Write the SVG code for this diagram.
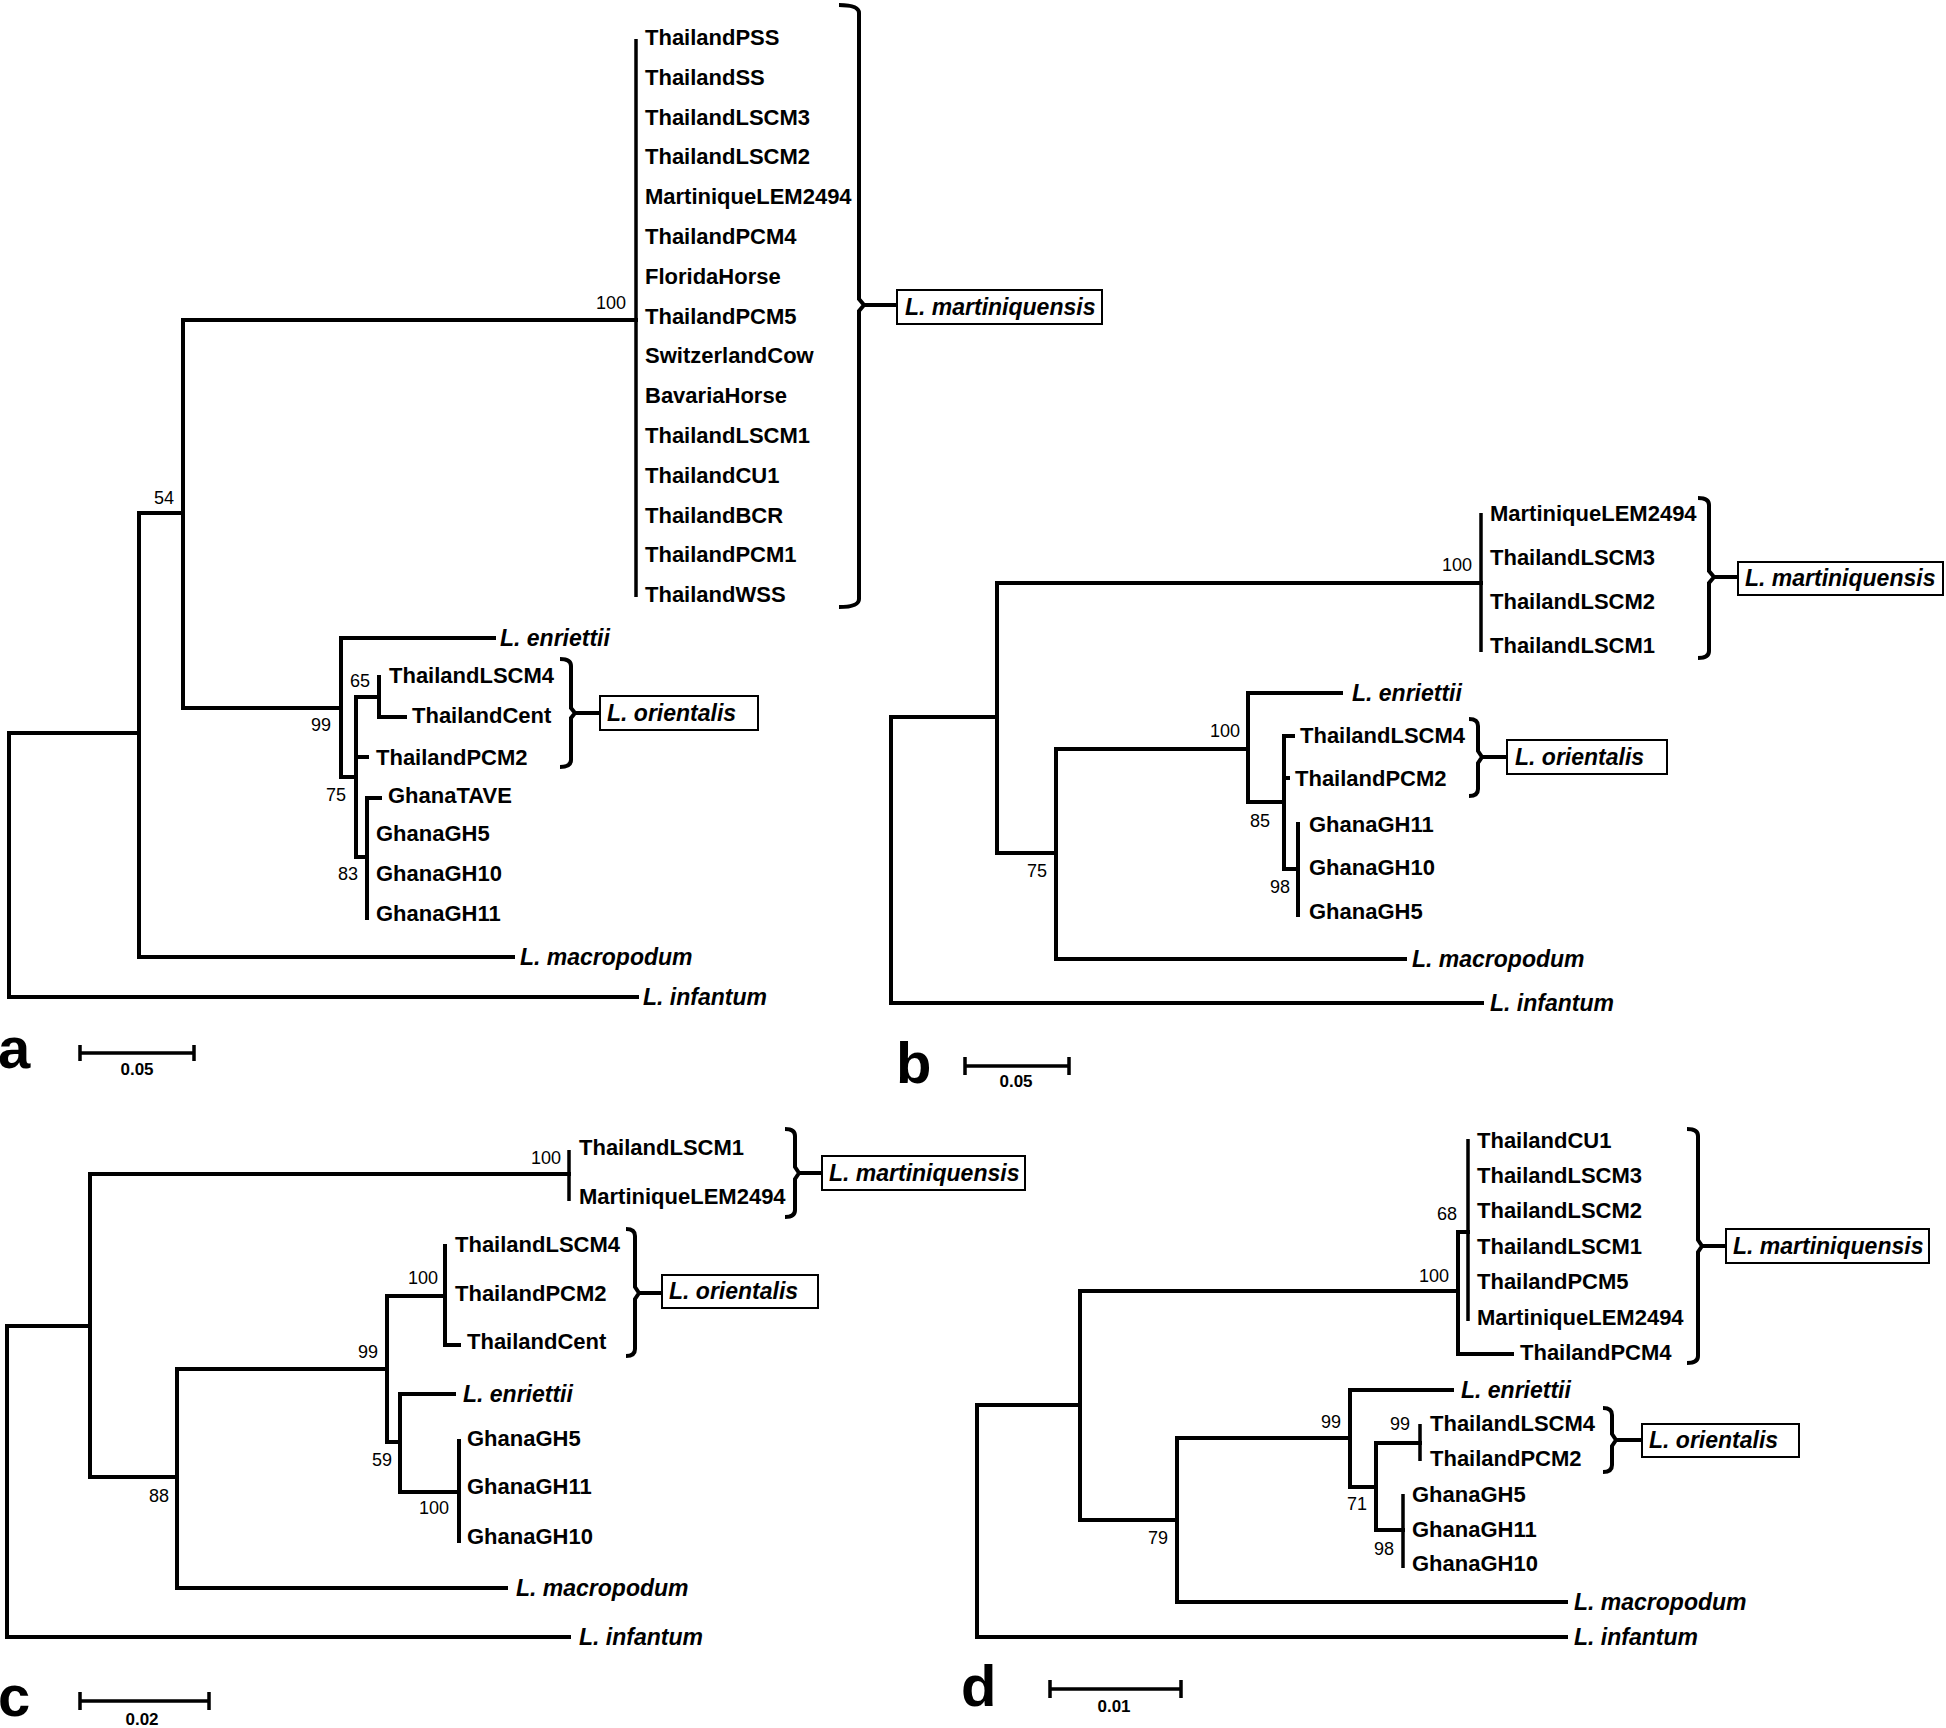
<svg xmlns="http://www.w3.org/2000/svg" width="1946" height="1728" viewBox="0 0 1946 1728">
<style>
.br{stroke:#000;stroke-width:4;fill:none;stroke-linecap:square;stroke-linejoin:miter}
.cb{stroke:#000;stroke-width:3.5;fill:none}
.bk{stroke:#000;stroke-width:4;fill:none;stroke-linecap:butt}
.sb{stroke:#000;stroke-width:3.5;fill:none}
.bx{fill:#fff;stroke:#000;stroke-width:2}
text{font-family:"Liberation Sans",Arial,sans-serif;fill:#000}
.lb{font-size:22px;font-weight:bold}
.sp{font-size:23px;font-weight:bold;font-style:italic}
.bs{font-size:18px;text-anchor:middle}
.sc{font-size:17px;font-weight:bold;text-anchor:middle}
.pl{font-size:58px;font-weight:bold}
</style>
<rect width="1946" height="1728" fill="#fff"/>

<!-- ================= PANEL A ================= -->
<g id="connectors-a">
<path class="br" d="M9 733V997M9 733H139M9 997H637M139 513V957M139 513H183M139 957H513M183 320V708M183 320H636M183 708H341M341 638V777M341 638H494M341 777H356M356 697V857M356 697H379M356 757H367M356 857H367M379 677V717M379 717H405M367 798V918M367 798H380"/>
<path class="cb" d="M636 39V597"/>
<path class="bk" d="M839 5Q859 5 859 13V299L864 305L859 311V599Q859 607 839 607M864 305H897"/>
<path class="bk" d="M560 659Q571 659 571 666V708L575 713L571 718V760Q571 767 560 767M575 713H600"/>
<path class="sb" d="M80 1053H194M80 1045V1061M194 1045V1061"/>
</g>
<g id="a-ThailandPSS"><text class="lb" x="645" y="45">ThailandPSS</text></g>
<g id="a-ThailandSS"><text class="lb" x="645" y="85">ThailandSS</text></g>
<g id="a-ThailandLSCM3"><text class="lb" x="645" y="125">ThailandLSCM3</text></g>
<g id="a-ThailandLSCM2"><text class="lb" x="645" y="164">ThailandLSCM2</text></g>
<g id="a-MartiniqueLEM2494"><text class="lb" x="645" y="204">MartiniqueLEM2494</text></g>
<g id="a-ThailandPCM4"><text class="lb" x="645" y="244">ThailandPCM4</text></g>
<g id="a-FloridaHorse"><text class="lb" x="645" y="284">FloridaHorse</text></g>
<g id="a-ThailandPCM5"><text class="lb" x="645" y="324">ThailandPCM5</text></g>
<g id="a-SwitzerlandCow"><text class="lb" x="645" y="363">SwitzerlandCow</text></g>
<g id="a-BavariaHorse"><text class="lb" x="645" y="403">BavariaHorse</text></g>
<g id="a-ThailandLSCM1"><text class="lb" x="645" y="443">ThailandLSCM1</text></g>
<g id="a-ThailandCU1"><text class="lb" x="645" y="483">ThailandCU1</text></g>
<g id="a-ThailandBCR"><text class="lb" x="645" y="523">ThailandBCR</text></g>
<g id="a-ThailandPCM1"><text class="lb" x="645" y="562">ThailandPCM1</text></g>
<g id="a-ThailandWSS"><text class="lb" x="645" y="602">ThailandWSS</text></g>
<g id="a-enriettii"><text class="sp" x="500" y="646">L. enriettii</text></g>
<g id="a-ThailandLSCM4"><text class="lb" x="389" y="683">ThailandLSCM4</text></g>
<g id="a-ThailandCent"><text class="lb" x="412" y="723">ThailandCent</text></g>
<g id="a-ThailandPCM2"><text class="lb" x="376" y="765">ThailandPCM2</text></g>
<g id="a-GhanaTAVE"><text class="lb" x="388" y="803">GhanaTAVE</text></g>
<g id="a-GhanaGH5"><text class="lb" x="376" y="841">GhanaGH5</text></g>
<g id="a-GhanaGH10"><text class="lb" x="376" y="881">GhanaGH10</text></g>
<g id="a-GhanaGH11"><text class="lb" x="376" y="921">GhanaGH11</text></g>
<g id="a-macropodum"><text class="sp" x="520" y="965">L. macropodum</text></g>
<g id="a-infantum"><text class="sp" x="643" y="1005">L. infantum</text></g>
<g id="a-bootstrap">
<text class="bs" x="611" y="309">100</text>
<text class="bs" x="164" y="504">54</text>
<text class="bs" x="321" y="731">99</text>
<text class="bs" x="360" y="687">65</text>
<text class="bs" x="336" y="801">75</text>
<text class="bs" x="348" y="880">83</text>
</g>
<g id="a-martiniquensis-box"><rect class="bx" x="897" y="290" width="205" height="34"/><text class="sp" x="905" y="315">L. martiniquensis</text></g>
<g id="a-orientalis-box"><rect class="bx" x="600" y="696" width="158" height="34"/><text class="sp" x="607" y="721">L. orientalis</text></g>
<g id="a-label"><text class="pl" x="-2" y="1068">a</text></g>
<g id="a-scale"><text class="sc" x="137" y="1075">0.05</text></g>

<!-- ================= PANEL B ================= -->
<g id="connectors-b">
<path class="br" d="M891 717V1003M891 717H997M891 1003H1482M997 583V853M997 583H1481M997 853H1056M1056 749V959M1056 749H1248M1056 959H1405M1248 693V802M1248 693H1341M1248 802H1284M1284 736V869M1284 736H1293M1284 778H1288M1284 869H1298M1298 824V915"/>
<path class="cb" d="M1481 513V652"/>
<path class="bk" d="M1698 498Q1709 498 1709 505V571L1714 577L1709 583V651Q1709 658 1698 658M1714 577H1738"/>
<path class="bk" d="M1469 719Q1478 719 1478 726V751L1482 757L1478 763V789Q1478 796 1469 796M1482 757H1507"/>
<path class="sb" d="M965 1066H1069M965 1057V1075M1069 1057V1075"/>
</g>
<g id="b-MartiniqueLEM2494"><text class="lb" x="1490" y="521">MartiniqueLEM2494</text></g>
<g id="b-ThailandLSCM3"><text class="lb" x="1490" y="565">ThailandLSCM3</text></g>
<g id="b-ThailandLSCM2"><text class="lb" x="1490" y="609">ThailandLSCM2</text></g>
<g id="b-ThailandLSCM1"><text class="lb" x="1490" y="653">ThailandLSCM1</text></g>
<g id="b-enriettii"><text class="sp" x="1352" y="701">L. enriettii</text></g>
<g id="b-ThailandLSCM4"><text class="lb" x="1300" y="743">ThailandLSCM4</text></g>
<g id="b-ThailandPCM2"><text class="lb" x="1295" y="786">ThailandPCM2</text></g>
<g id="b-GhanaGH11"><text class="lb" x="1309" y="832">GhanaGH11</text></g>
<g id="b-GhanaGH10"><text class="lb" x="1309" y="875">GhanaGH10</text></g>
<g id="b-GhanaGH5"><text class="lb" x="1309" y="919">GhanaGH5</text></g>
<g id="b-macropodum"><text class="sp" x="1412" y="967">L. macropodum</text></g>
<g id="b-infantum"><text class="sp" x="1490" y="1011">L. infantum</text></g>
<g id="b-bootstrap">
<text class="bs" x="1457" y="571">100</text>
<text class="bs" x="1037" y="877">75</text>
<text class="bs" x="1225" y="737">100</text>
<text class="bs" x="1260" y="827">85</text>
<text class="bs" x="1280" y="893">98</text>
</g>
<g id="b-martiniquensis-box"><rect class="bx" x="1738" y="562" width="205" height="33"/><text class="sp" x="1745" y="586">L. martiniquensis</text></g>
<g id="b-orientalis-box"><rect class="bx" x="1507" y="740" width="160" height="34"/><text class="sp" x="1515" y="765">L. orientalis</text></g>
<g id="b-label"><text class="pl" x="896" y="1083">b</text></g>
<g id="b-scale"><text class="sc" x="1016" y="1087">0.05</text></g>

<!-- ================= PANEL C ================= -->
<g id="connectors-c">
<path class="br" d="M7 1326V1637M7 1326H90M7 1637H569M90 1174V1477M90 1174H569M90 1477H177M177 1369V1588M177 1369H387M177 1588H506M387 1296V1442M387 1296H445M387 1442H400M445 1246V1345M445 1345H459M400 1394V1492M400 1394H454M400 1492H459M459 1441V1541"/>
<path class="cb" d="M569 1150V1201"/>
<path class="bk" d="M785 1129Q795 1129 795 1136V1167L799 1173L795 1179V1210Q795 1217 785 1217M799 1173H822"/>
<path class="bk" d="M626 1229Q635 1229 635 1236V1287L639 1293L635 1299V1349Q635 1356 626 1356M639 1293H662"/>
<path class="sb" d="M80 1701H209M80 1692V1710M209 1692V1710"/>
</g>
<g id="c-ThailandLSCM1"><text class="lb" x="579" y="1155">ThailandLSCM1</text></g>
<g id="c-MartiniqueLEM2494"><text class="lb" x="579" y="1204">MartiniqueLEM2494</text></g>
<g id="c-ThailandLSCM4"><text class="lb" x="455" y="1252">ThailandLSCM4</text></g>
<g id="c-ThailandPCM2"><text class="lb" x="455" y="1301">ThailandPCM2</text></g>
<g id="c-ThailandCent"><text class="lb" x="467" y="1349">ThailandCent</text></g>
<g id="c-enriettii"><text class="sp" x="463" y="1402">L. enriettii</text></g>
<g id="c-GhanaGH5"><text class="lb" x="467" y="1446">GhanaGH5</text></g>
<g id="c-GhanaGH11"><text class="lb" x="467" y="1494">GhanaGH11</text></g>
<g id="c-GhanaGH10"><text class="lb" x="467" y="1544">GhanaGH10</text></g>
<g id="c-macropodum"><text class="sp" x="516" y="1596">L. macropodum</text></g>
<g id="c-infantum"><text class="sp" x="579" y="1645">L. infantum</text></g>
<g id="c-bootstrap">
<text class="bs" x="546" y="1164">100</text>
<text class="bs" x="159" y="1502">88</text>
<text class="bs" x="368" y="1358">99</text>
<text class="bs" x="423" y="1284">100</text>
<text class="bs" x="382" y="1466">59</text>
<text class="bs" x="434" y="1514">100</text>
</g>
<g id="c-martiniquensis-box"><rect class="bx" x="822" y="1156" width="203" height="34"/><text class="sp" x="829" y="1181">L. martiniquensis</text></g>
<g id="c-orientalis-box"><rect class="bx" x="662" y="1275" width="156" height="33"/><text class="sp" x="669" y="1299">L. orientalis</text></g>
<g id="c-label"><text class="pl" x="-2" y="1716">c</text></g>
<g id="c-scale"><text class="sc" x="142" y="1725">0.02</text></g>

<!-- ================= PANEL D ================= -->
<g id="connectors-d">
<path class="br" d="M977 1405V1637M977 1405H1080M977 1637H1566M1080 1291V1520M1080 1291H1458M1080 1520H1177M1458 1232V1354M1458 1232H1468M1458 1354H1512M1177 1438V1602M1177 1438H1350M1177 1602H1566M1350 1390V1487M1350 1390H1452M1350 1487H1376M1376 1443V1530M1376 1443H1420M1376 1530H1403"/>
<path class="cb" d="M1468 1139V1321M1420 1424V1461M1403 1494V1568"/>
<path class="bk" d="M1687 1129Q1698 1129 1698 1136V1240L1702 1246L1698 1252V1356Q1698 1363 1687 1363M1702 1246H1726"/>
<path class="bk" d="M1603 1408Q1612 1408 1612 1415V1434L1616 1440L1612 1446V1465Q1612 1472 1603 1472M1616 1440H1642"/>
<path class="sb" d="M1050 1689H1181M1050 1680V1698M1181 1680V1698"/>
</g>
<g id="d-ThailandCU1"><text class="lb" x="1477" y="1148">ThailandCU1</text></g>
<g id="d-ThailandLSCM3"><text class="lb" x="1477" y="1183">ThailandLSCM3</text></g>
<g id="d-ThailandLSCM2"><text class="lb" x="1477" y="1218">ThailandLSCM2</text></g>
<g id="d-ThailandLSCM1"><text class="lb" x="1477" y="1254">ThailandLSCM1</text></g>
<g id="d-ThailandPCM5"><text class="lb" x="1477" y="1289">ThailandPCM5</text></g>
<g id="d-MartiniqueLEM2494"><text class="lb" x="1477" y="1325">MartiniqueLEM2494</text></g>
<g id="d-ThailandPCM4"><text class="lb" x="1520" y="1360">ThailandPCM4</text></g>
<g id="d-enriettii"><text class="sp" x="1461" y="1398">L. enriettii</text></g>
<g id="d-ThailandLSCM4"><text class="lb" x="1430" y="1431">ThailandLSCM4</text></g>
<g id="d-ThailandPCM2"><text class="lb" x="1430" y="1466">ThailandPCM2</text></g>
<g id="d-GhanaGH5"><text class="lb" x="1412" y="1502">GhanaGH5</text></g>
<g id="d-GhanaGH11"><text class="lb" x="1412" y="1537">GhanaGH11</text></g>
<g id="d-GhanaGH10"><text class="lb" x="1412" y="1571">GhanaGH10</text></g>
<g id="d-macropodum"><text class="sp" x="1574" y="1610">L. macropodum</text></g>
<g id="d-infantum"><text class="sp" x="1574" y="1645">L. infantum</text></g>
<g id="d-bootstrap">
<text class="bs" x="1434" y="1282">100</text>
<text class="bs" x="1447" y="1220">68</text>
<text class="bs" x="1158" y="1544">79</text>
<text class="bs" x="1331" y="1428">99</text>
<text class="bs" x="1357" y="1510">71</text>
<text class="bs" x="1400" y="1430">99</text>
<text class="bs" x="1384" y="1555">98</text>
</g>
<g id="d-martiniquensis-box"><rect class="bx" x="1726" y="1229" width="203" height="34"/><text class="sp" x="1733" y="1254">L. martiniquensis</text></g>
<g id="d-orientalis-box"><rect class="bx" x="1642" y="1424" width="157" height="33"/><text class="sp" x="1649" y="1448">L. orientalis</text></g>
<g id="d-label"><text class="pl" x="961" y="1706">d</text></g>
<g id="d-scale"><text class="sc" x="1114" y="1712">0.01</text></g>
</svg>
